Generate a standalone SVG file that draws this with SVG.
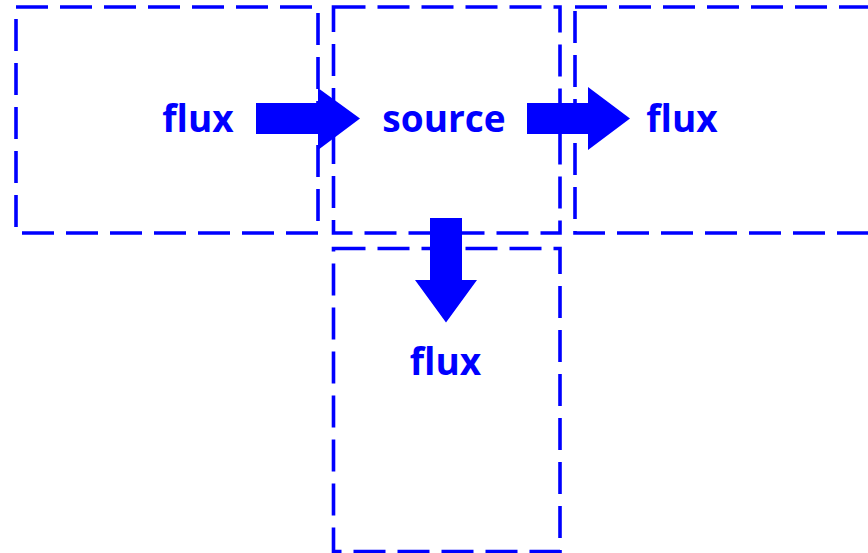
<svg xmlns="http://www.w3.org/2000/svg" width="868" height="553" viewBox="0 0 868 553">
<style>
.box{fill:none;stroke:#0000ff;stroke-width:3.6;stroke-dasharray:32 12}
.lbl{font-family:"Open Sans","Noto Sans",sans-serif;font-weight:bold;font-size:37px;fill:#0000ff;text-anchor:middle}
.arr{fill:#0000ff;stroke:none}
</style>
<rect width="868" height="553" fill="#ffffff"/>
<g id="node-flux-left"><rect class="box" x="16" y="7" width="302" height="226"/><text class="lbl" x="198" y="132">flux</text></g>
<g id="node-source"><rect class="box" x="333.5" y="7" width="226.5" height="226"/><text class="lbl" x="444" y="132">source</text></g>
<g id="node-flux-right"><rect class="box" x="575" y="7" width="320" height="226"/><text class="lbl" x="682" y="132">flux</text></g>
<g id="node-flux-bottom"><rect class="box" x="333.5" y="248.5" width="226.5" height="303"/><text class="lbl" x="445.5" y="375">flux</text></g>
<g id="connectors">
<polygon class="arr" points="256,103 318,103 318,88 360,118.5 318,150 318,134 256,134"/>
<polygon class="arr" points="527,103 588,103 588,87 630,118.5 588,150 588,134 527,134"/>
<polygon class="arr" points="430,218 462,218 462,280 477,280 446,322.5 415,280 430,280"/>
</g>
</svg>
